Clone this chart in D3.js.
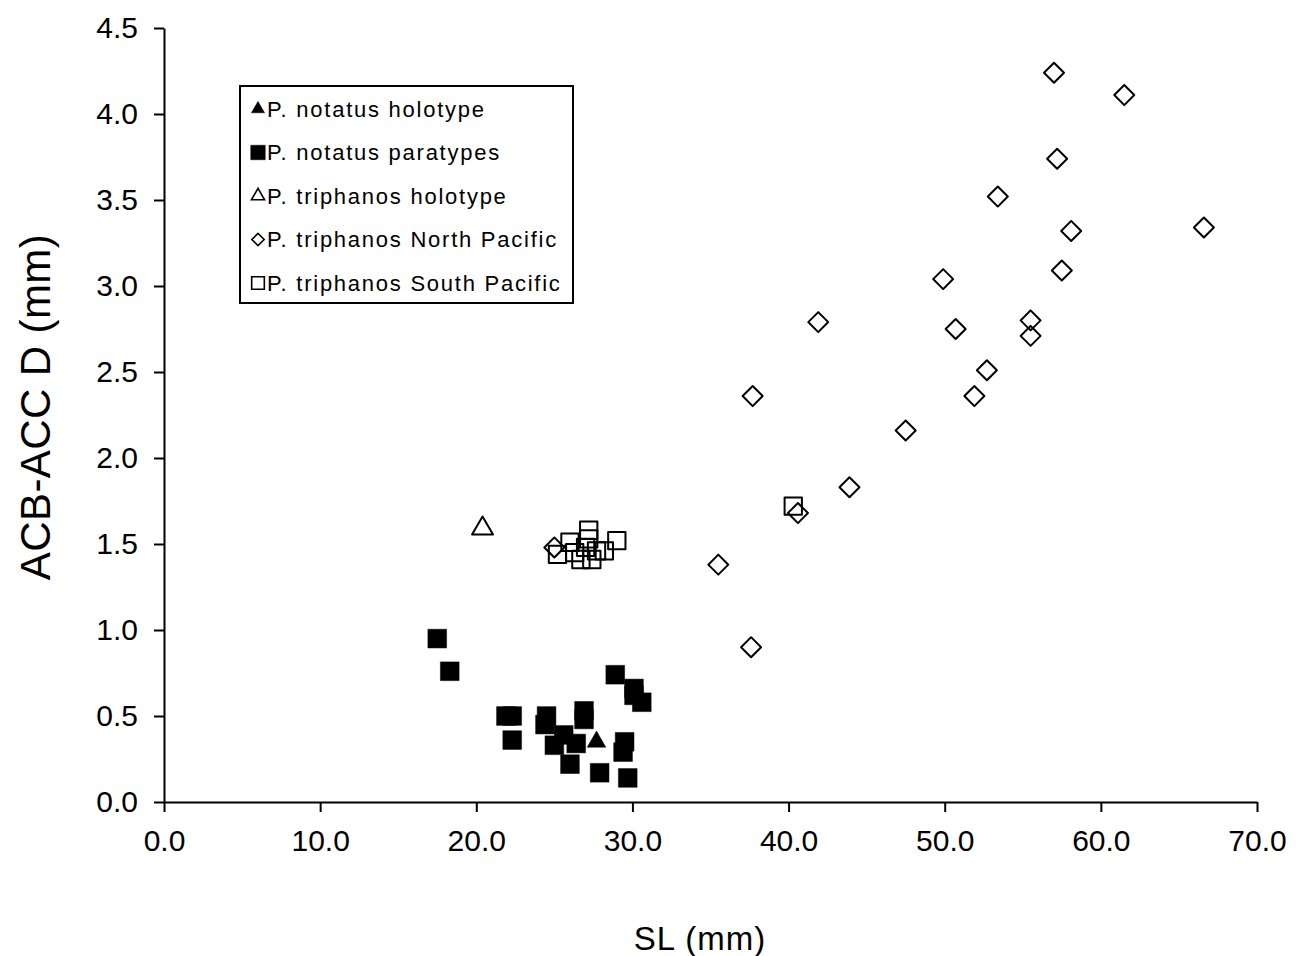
<!DOCTYPE html>
<html>
<head>
<meta charset="utf-8">
<script src="https://cdn.jsdelivr.net/npm/d3@7/dist/d3.min.js"></script>
<style>
  html, body { margin: 0; padding: 0; background: #fff; }
  text { font-family: "Liberation Sans", Arial, sans-serif; fill: #000; }
</style>
</head>
<body>
<svg id="chart" width="1300" height="956"></svg>
<script>
// ---- data (SL mm, ACB-ACC D mm) ----
const notatusHolotype = [[27.7, 0.35]];
const notatusParatypes = [
  [17.5, 0.95], [18.3, 0.76], [21.9, 0.50], [22.3, 0.50], [22.3, 0.36],
  [24.5, 0.50], [24.4, 0.45], [25.6, 0.39], [25.0, 0.33], [26.4, 0.34],
  [26.9, 0.53], [26.9, 0.48], [26.0, 0.22], [27.9, 0.17], [28.9, 0.74],
  [30.1, 0.66], [30.1, 0.62], [30.6, 0.58], [29.5, 0.35], [29.4, 0.29],
  [29.7, 0.14]
];
const triphanosHolotype = [[20.4, 1.59]];
const triphanosNorth = [
  [57.0, 4.24], [61.5, 4.11], [57.2, 3.74], [53.4, 3.52], [58.1, 3.32],
  [66.6, 3.34], [49.9, 3.04], [57.5, 3.09], [50.7, 2.75], [55.5, 2.80],
  [55.5, 2.71], [52.7, 2.51], [37.7, 2.36], [51.9, 2.36], [47.5, 2.16],
  [43.9, 1.83], [40.6, 1.68], [35.5, 1.38], [37.6, 0.90], [41.9, 2.79],
  [25.0, 1.48]
];
const triphanosSouth = [
  [27.2, 1.58], [27.2, 1.53], [26.0, 1.51], [29.0, 1.52], [25.2, 1.44],
  [26.7, 1.41], [27.4, 1.41], [27.7, 1.46], [28.2, 1.46], [26.3, 1.45],
  [27.0, 1.48], [40.3, 1.72]
];
const xTicks = [0, 10, 20, 30, 40, 50, 60, 70];
const yTicks = [0, 0.5, 1, 1.5, 2, 2.5, 3, 3.5, 4, 4.5];
const legendLabels = [
  "P. notatus holotype",
  "P. notatus paratypes",
  "P. triphanos holotype",
  "P. triphanos North Pacific",
  "P. triphanos South Pacific"
];
const xTitle = "SL (mm)";
const yTitle = "ACB-ACC D (mm)";

// ---- layout ----
const svg = d3.select("#chart");
const x = d3.scaleLinear().domain([0, 70]).range([164, 1257]);
const y = d3.scaleLinear().domain([0, 4.5]).range([802, 28]);

// axes
const xAxis = d3.axisBottom(x).tickValues(xTicks).tickFormat(d3.format(".1f")).tickSize(10).tickSizeOuter(0).tickPadding(13);
const yAxis = d3.axisLeft(y).tickValues(yTicks).tickFormat(d3.format(".1f")).tickSize(10).tickSizeOuter(0).tickPadding(16);

const gx = svg.append("g").attr("transform", "translate(0,802)").call(xAxis);
const gy = svg.append("g").attr("transform", "translate(164,0)").call(yAxis);
[gx, gy].forEach(g => {
  g.selectAll("path.domain").attr("stroke", "#000").attr("stroke-width", 2);
  g.selectAll(".tick line").attr("stroke", "#000").attr("stroke-width", 2);
  g.selectAll(".tick text").style("font-size", "30px").style("font-family", "'Liberation Sans', Arial, sans-serif").attr("fill", "#000");
});
gx.selectAll(".tick text").attr("dy", "0.85em");

// titles
svg.append("text").attr("x", 700).attr("y", 950).attr("text-anchor", "middle")
  .style("font-size", "33px").style("letter-spacing", "1px").text(xTitle);
svg.append("text").attr("transform", "translate(50,407) rotate(-90)").attr("text-anchor", "middle")
  .style("font-size", "42px").style("letter-spacing", "0.4px").text(yTitle);

// markers
const sym = (type, size) => d3.symbol().type(type).size(size)();
const plot = svg.append("g");

function drawSeries(data, type, size, filled, rot) {
  plot.append("g").selectAll("path").data(data).join("path")
    .attr("d", sym(type, size))
    .attr("transform", d => `translate(${x(d[0])},${y(d[1])})` + (rot ? ` rotate(${rot})` : ""))
    .attr("fill", filled ? "#000" : "none")
    .attr("stroke", "#000")
    .attr("stroke-width", filled ? 0.5 : 2)
    .attr("stroke-linejoin", "round");
}

drawSeries(triphanosNorth, d3.symbolSquare, 200, false, 45);
drawSeries(triphanosSouth, d3.symbolSquare, 300, false, 0);
drawSeries(triphanosHolotype, d3.symbolTriangle, 190, false, 0);
drawSeries(notatusParatypes, d3.symbolSquare, 350, true, 0);
drawSeries(notatusHolotype, d3.symbolTriangle, 150, true, 0);

// legend
const lg = svg.append("g");
lg.append("rect").attr("x", 240).attr("y", 86).attr("width", 333).attr("height", 217)
  .attr("fill", "#fff").attr("stroke", "#000").attr("stroke-width", 2);
const legendSyms = [
  {type: d3.symbolTriangle, size: 75, filled: true, rot: 0},
  {type: d3.symbolSquare, size: 210, filled: true, rot: 0},
  {type: d3.symbolTriangle, size: 75, filled: false, rot: 0},
  {type: d3.symbolSquare, size: 76, filled: false, rot: 45},
  {type: d3.symbolSquare, size: 160, filled: false, rot: 0}
];
const rowY = d3.scaleLinear().domain([0, 4]).range([109, 283]);
legendLabels.forEach((lab, i) => {
  const s = legendSyms[i];
  lg.append("path").attr("d", sym(s.type, s.size))
    .attr("transform", `translate(258,${rowY(i)})` + (s.rot ? ` rotate(${s.rot})` : ""))
    .attr("fill", s.filled ? "#000" : "none").attr("stroke", "#000").attr("stroke-width", s.filled ? 0.5 : 1.6);
  lg.append("text").attr("x", 267).attr("y", rowY(i)).attr("dy", "0.36em")
    .style("font-size", "22px").style("letter-spacing", "1.75px").text(lab);
});
</script>
</body>
</html>
